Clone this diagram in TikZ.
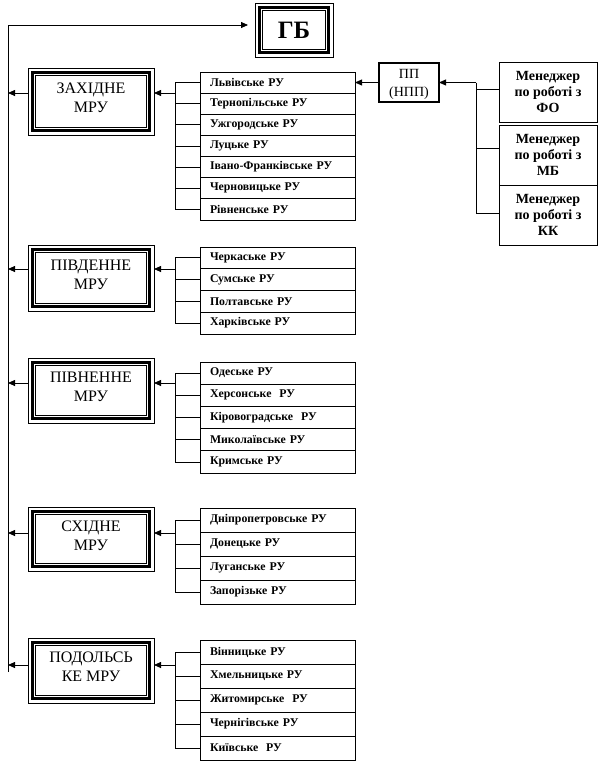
\documentclass[tikz,border=0pt]{standalone}
\usepackage{fontspec}
\setmainfont{Liberation Serif}
\usetikzlibrary{arrows.meta}
\tikzset{
  ln/.style={line width=0.8},
  arr/.style={ln, -{Triangle[length=7pt,width=6pt]}},
  outerfrm/.style={draw, line width=0.7, minimum width=126, inner sep=0, outer sep=0},
  frmtext/.style={align=center, font=\fontsize{16}{19}\selectfont, inner sep=0},
  rurow/.style={draw, line width=0.8, minimum width=155, text width=135, inner xsep=10, inner ysep=0, outer sep=0, align=left, font=\fontsize{11.8}{12}\selectfont\bfseries},
  ppbox/.style={draw, line width=2.5, minimum width=60, minimum height=39, inner sep=0, outer sep=0, align=center, font=\fontsize{14}{18}\selectfont},
  mgr/.style={draw, line width=0.8, minimum width=98, minimum height=60, inner sep=0, outer sep=0, align=center, font=\fontsize{14}{16}\selectfont\bfseries},
}
\newcommand{\innerfrm}[1]{%
  \draw[line width=3.2] ([shift={(4.2,4.2)}]#1.north west) rectangle ([shift={(-4.2,-4.2)}]#1.south east);
  \draw[line width=0.6] ([shift={(7.6,7.6)}]#1.north west) rectangle ([shift={(-7.6,-7.6)}]#1.south east);}
\newcommand{\rulist}[4]{%
  \foreach \t [count=\i] in {#4} {
    \node[rurow, minimum height=#3] (#1\i) at (277.5, {#2+(\i-0.5)*#3}) {\t};
    \draw[ln] (#1\i.west) -- ++(-25,0);
  }}
\begin{document}
\begin{tikzpicture}[x=1pt,y=-1pt]
\useasboundingbox (0,0) rectangle (598,763);

% main line and GB
\node[outerfrm, minimum width=78, minimum height=54, font=\fontsize{25}{26}\selectfont\bfseries] (gb) at (294,30) {ГБ};
\innerfrm{gb}
\coordinate (mtop) at (8,25);
\coordinate (mbot) at (8,672);
\draw[ln] (mbot) -- (mtop);
\draw[arr, shorten >=7] (mtop) -- (mtop -| gb.west);

% ---- West
\node[outerfrm, minimum height=67] (Af) at (91,101.5) {};
\innerfrm{Af}
\node[frmtext] (At) at (91,98) {ЗАХІДНЕ\\МРУ};
\rulist{A}{72}{21.14}{Львівське РУ,Тернопільське РУ,Ужгородське РУ,Луцьке РУ,Івано-Франківське РУ,Черновицьке РУ,Рівненське РУ}
\draw[ln] ([xshift=-25]A1.west) -- ([xshift=-25]A7.west);
\coordinate (Aj) at (175,93);
\coordinate (Am) at (8,93);
\draw[arr] (Aj) -- (Aj -| Af.east);
\draw[arr] (Am -| Af.west) -- (Am);

% ---- South
\node[outerfrm, minimum height=66] (Bf) at (91,278) {};
\innerfrm{Bf}
\node[frmtext] (Bt) at (91,274.5) {ПІВДЕННЕ\\МРУ};
\rulist{B}{247}{21.75}{Черкаське РУ,Сумське РУ,Полтавське РУ,Харківське РУ}
\draw[ln] ([xshift=-25]B1.west) -- ([xshift=-25]B4.west);
\coordinate (Bj) at (175,269);
\coordinate (Bm) at (8,269);
\draw[arr] (Bj) -- (Bj -| Bf.east);
\draw[arr] (Bm -| Bf.west) -- (Bm);

% ---- North
\node[outerfrm, minimum height=65] (Cf) at (91,390.5) {};
\innerfrm{Cf}
\node[frmtext] (Ct) at (91,387) {ПІВНЕННЕ\\МРУ};
\rulist{C}{362}{22.2}{Одеське РУ,Херсонське~ РУ,Кіровоградське~ РУ,Миколаївське РУ,Кримське РУ}
\draw[ln] ([xshift=-25]C1.west) -- ([xshift=-25]C5.west);
\coordinate (Cj) at (175,383);
\coordinate (Cm) at (8,383);
\draw[arr] (Cj) -- (Cj -| Cf.east);
\draw[arr] (Cm -| Cf.west) -- (Cm);

% ---- East
\node[outerfrm, minimum height=64] (Df) at (91,539) {};
\innerfrm{Df}
\node[frmtext] (Dt) at (91,535.5) {СХІДНЕ\\МРУ};
\rulist{D}{508}{24}{Дніпропетровське РУ,Донецьке РУ,Луганське РУ,Запорізьке РУ}
\draw[ln] ([xshift=-25]D1.west) -- ([xshift=-25]D4.west);
\coordinate (Dj) at (175,533);
\coordinate (Dm) at (8,533);
\draw[arr] (Dj) -- (Dj -| Df.east);
\draw[arr] (Dm -| Df.west) -- (Dm);

% ---- Podilske
\node[outerfrm, minimum height=65] (Ef) at (91,670.5) {};
\innerfrm{Ef}
\node[frmtext] (Et) at (91,667) {ПОДОЛЬСЬ\\КЕ МРУ};
\rulist{E}{640}{24}{Вінницьке РУ,Хмельницьке РУ,Житомирське~ РУ,Чернігівське РУ,Київське~ РУ}
\draw[ln] ([xshift=-25]E1.west) -- ([xshift=-25]E5.west);
\coordinate (Ej) at (175,665);
\coordinate (Em) at (8,665);
\draw[arr] (Ej) -- (Ej -| Ef.east);
\draw[arr] (Em -| Ef.west) -- (Em);

% ---- PP and managers
\node[ppbox, text depth=-3pt] (pp) at (409,82.5) {ПП\\(НПП)};
\draw[arr] (pp.west) -- (pp.west -| A1.east);
\node[mgr] (m1) at (548,92) {Менеджер\\по роботі з\\ФО};
\node[mgr] (m2) at (548,155) {Менеджер\\по роботі з\\МБ};
\node[mgr] (m3) at (548,215) {Менеджер\\по роботі з\\КК};
\coordinate (mj) at (476,82.5);
\draw[arr] (mj) -- (pp.east);
\draw[ln] (mj) |- ([yshift=2]m3.west);
\draw[ln] ([yshift=3]m1.west) -- ++(-23,0);
\draw[ln] ([yshift=7]m2.west) -- ++(-23,0);
\end{tikzpicture}
\end{document}
